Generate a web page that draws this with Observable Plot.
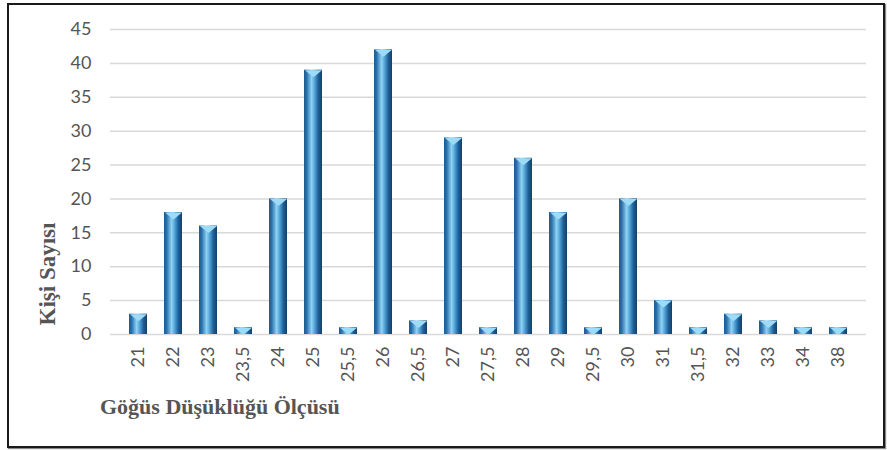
<!DOCTYPE html>
<html>
<head>
<meta charset="utf-8">
<script src="https://cdn.jsdelivr.net/npm/d3@7"></script>
<script src="https://cdn.jsdelivr.net/npm/@observablehq/plot@0.6"></script>
<style>
  html, body { margin: 0; padding: 0; background: #fff; }
  #wrap { position: relative; width: 887px; height: 450px; overflow: hidden; }
  #frame { position: absolute; left: 7px; top: 3px; width: 874px; height: 441px; border: 2px solid #1a1a1a; box-shadow: 1px 1px 1px #888; pointer-events: none; }
  #chart { position: absolute; left: 0; top: 0; }
  .ytitle { position: absolute; left: 48px; top: 274px; transform: translate(-50%, -50%) rotate(-90deg); white-space: nowrap;
    font-family: "Liberation Serif", "Times New Roman", serif; font-weight: bold; font-size: 23px; color: #555; }
  .xtitle { position: absolute; left: 100px; top: 394px; white-space: nowrap;
    font-family: "Liberation Serif", "Times New Roman", serif; font-weight: bold; font-size: 22px; color: #555; }
</style>
</head>
<body>
<div id="wrap">
  <div id="chart"></div>
  <div class="ytitle">Kişi Sayısı</div>
  <div class="xtitle">Göğüs Düşüklüğü Ölçüsü</div>
  <div id="frame"></div>
</div>
<script>
const categories = ["21","22","23","23,5","24","25","25,5","26","26,5","27","27,5","28","29","29,5","30","31","31,5","32","33","34","38"];
const counts = [3,18,16,1,20,39,1,42,2,29,1,26,18,1,20,5,1,3,2,1,1];
const yTicks = [0,5,10,15,20,25,30,35,40,45];

const data = categories.map((c, i) => ({size: c, count: counts[i]}));

const defs = () => {
  const d = d3.create("svg:defs");
  const g = d.append("linearGradient").attr("id", "barGrad").attr("x1", 0).attr("x2", 1).attr("y1", 0).attr("y2", 0);
  [[0, "#1d5a8e"], [0.15, "#2a72ad"], [0.42, "#8fd2f2"], [0.55, "#5fb0e0"], [0.8, "#1f5f96"], [1, "#153f66"]]
    .forEach(([o, c]) => g.append("stop").attr("offset", o).attr("stop-color", c));
  return d.node();
};

const capSymbol = {
  draw(ctx) {
    ctx.moveTo(-8.5, 0);
    ctx.lineTo(8.5, 0);
    ctx.lineTo(0, 7);
    ctx.closePath();
  }
};

const plot = Plot.plot({
  width: 887,
  height: 450,
  marginLeft: 110,
  marginRight: 21,
  marginTop: 29,
  marginBottom: 116,
  style: { fontFamily: "Lato, 'Open Sans', sans-serif", fontWeight: 400, fontSize: "18px", color: "#555", background: "transparent" },
  x: { domain: categories, padding: 0.48, label: null },
  y: { domain: [0, 45], ticks: yTicks, label: null },
  marks: [
    defs,
    Plot.gridY(yTicks, { stroke: "#d9d9d9", strokeOpacity: 1, strokeWidth: 1.5 }),
    Plot.axisY({ ticks: yTicks, tickSize: 0, tickPadding: 19, fontSize: 18, fill: "#555" }),
    Plot.axisX({ tickSize: 0, tickRotate: -90, tickPadding: 12, fontSize: 18, fill: "#555" }),
    Plot.barY(data, { x: "size", y: "count", fill: "url(#barGrad)" }),
    Plot.dot(data, { x: "size", y: "count", symbol: capSymbol, fill: "#9ddbf7", stroke: "none", r: 1 })
  ]
});
document.getElementById("chart").appendChild(plot);
</script>
</body>
</html>
